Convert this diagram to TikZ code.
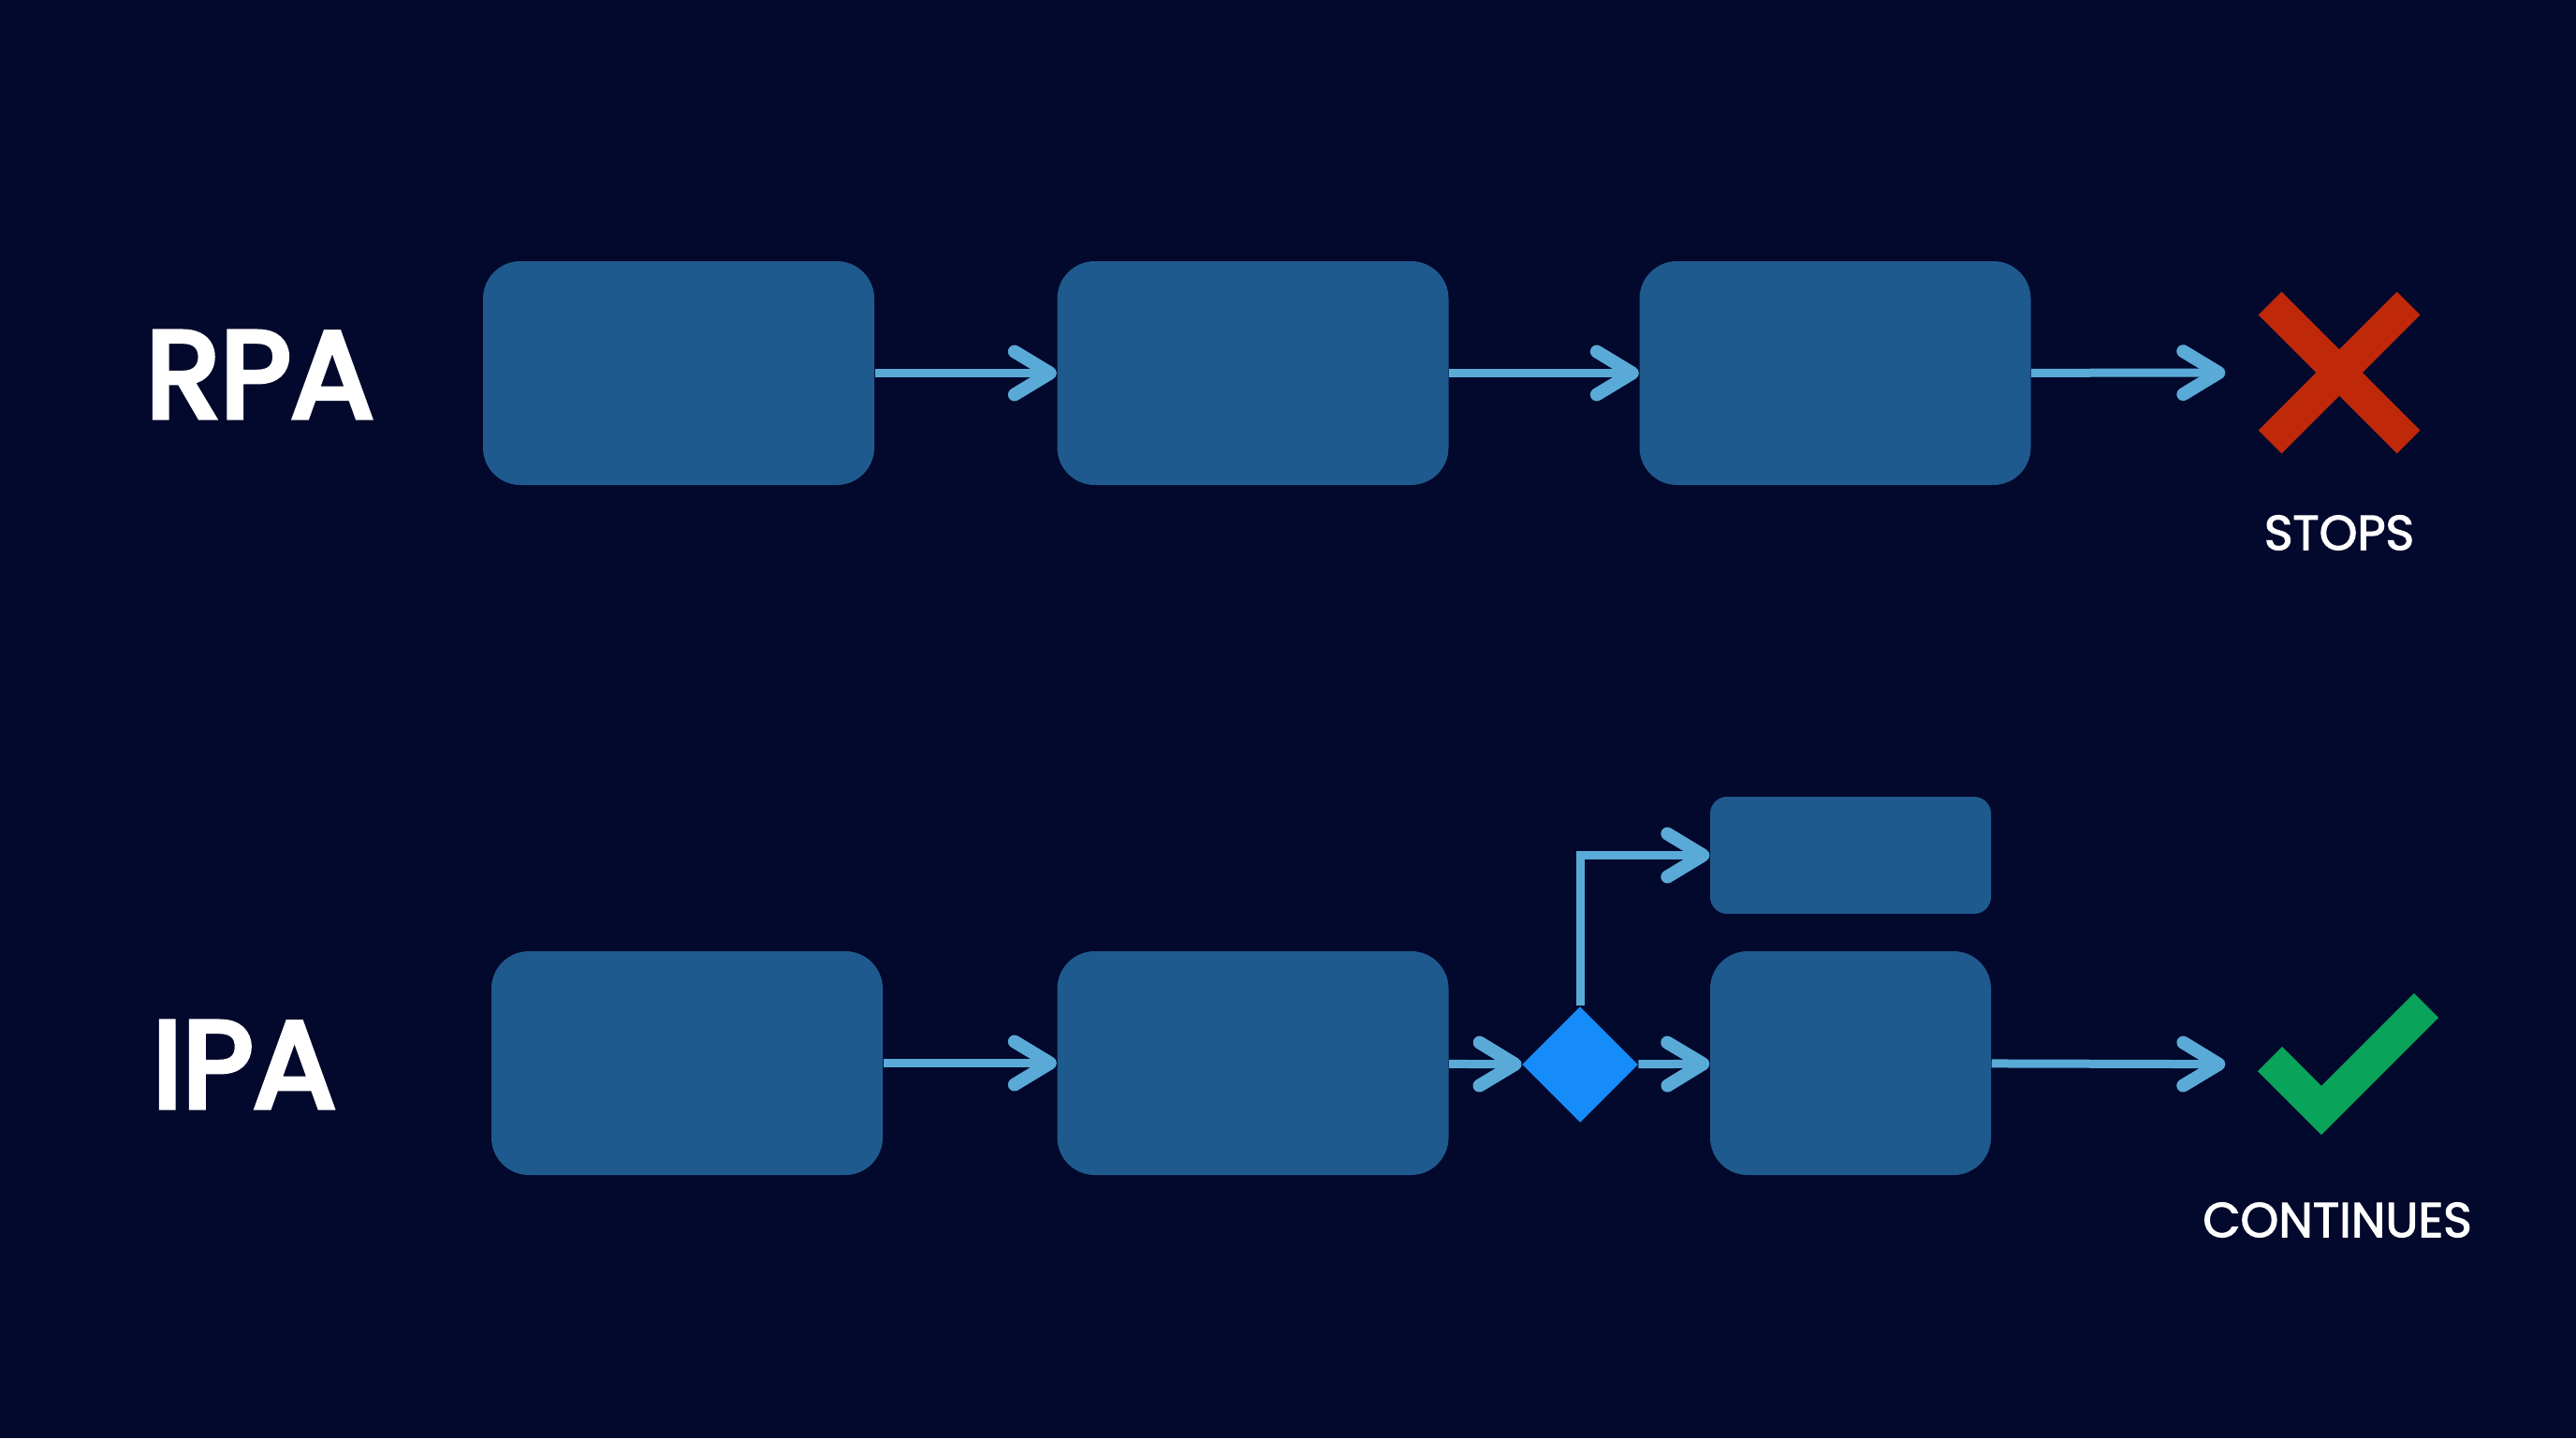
\documentclass[tikz,border=0pt]{standalone}
\usepackage{fontspec}
\setmainfont{Poppins}
\newfontfamily\sidefont{Poppins}[FakeBold=4.5]
\newfontfamily\resultfont{Poppins}[FakeBold=2.2]
\usetikzlibrary{arrows.meta,shapes.geometric}

\definecolor{bgnavy}{HTML}{03092C}
\definecolor{boxblue}{HTML}{1F5A8E}
\definecolor{flowblue}{HTML}{5AAAD8}
\definecolor{decblue}{HTML}{168CFA}
\definecolor{stopred}{HTML}{C0280A}
\definecolor{gogreen}{HTML}{0AA35A}

\begin{document}
\begin{tikzpicture}[
  stage/.style={fill=boxblue, rounded corners=0.4cm, minimum width=4.18cm, minimum height=2.39cm, inner sep=0pt},
  narrow/.style={stage, minimum width=3.00cm},
  flow/.style={draw=flowblue, line width=0.09cm, -{Straight Barb[length=0.38cm, width=0.46cm, line width=0.14cm, round]}},
  side/.style={text=white, font=\sidefont\fontsize{37.2}{40}\selectfont, anchor=west, inner sep=0pt},
  result/.style={text=white, font=\resultfont\fontsize{14.8}{17}\selectfont, inner sep=0pt},
  endpt/.style={minimum size=2.42cm, inner sep=0pt}
]
\useasboundingbox (0,0) rectangle (27.52,-15.36);
\fill[bgnavy] (0,0) rectangle (27.52,-15.36);

% RPA row
\node[side] (rpa) at (1.55,-4.00) {RPA};
\node[stage] (r1) at (7.25,-3.985) {};
\node[stage] (r2) at (13.385,-3.985) {};
\node[stage] (r3) at (19.605,-3.985) {};
\node[endpt] (stop) at (24.99,-3.98) {};
\node[result] (stoptxt) at (24.99,-5.69) {STOPS};

\draw[flow] (r1) -- (r2);
\draw[flow] (r2) -- (r3);
\draw[flow] (r3) -- (stop);
\draw[stopred, line width=0.35cm] (stop) ++(-0.74,0.74) -- ++(1.48,-1.48);
\draw[stopred, line width=0.35cm] (stop) ++(-0.74,-0.74) -- ++(1.48,1.48);

% IPA row
\node[side] (ipa) at (1.62,-11.37) {IPA};
\node[stage] (i1) at (7.34,-11.355) {};
\node[stage] (i2) at (13.385,-11.355) {};
\node[diamond, fill=decblue, minimum width=1.24cm, minimum height=1.24cm, inner sep=0pt] (dec) at (16.88,-11.37) {};
\node[narrow] (i3) at (19.77,-11.355) {};
\node[narrow, minimum height=1.25cm, rounded corners=0.18cm] (alt) at (19.77,-9.135) {};
\node[endpt] (go) at (24.99,-11.37) {};
\node[result] (gotxt) at (24.97,-13.03) {CONTINUES};

\draw[flow] (i1) -- (i2);
\draw[flow] (i2) -- (dec);
\draw[flow] (dec) -- (i3);
\draw[flow] (dec.north) |- (alt.west);
\draw[flow] (i3) -- (go);
\draw[gogreen, line width=0.37cm, miter limit=4] (go) ++(-0.74,0.06) -- ++(0.55,-0.55) -- ++(1.12,1.12);
\end{tikzpicture}
\end{document}
